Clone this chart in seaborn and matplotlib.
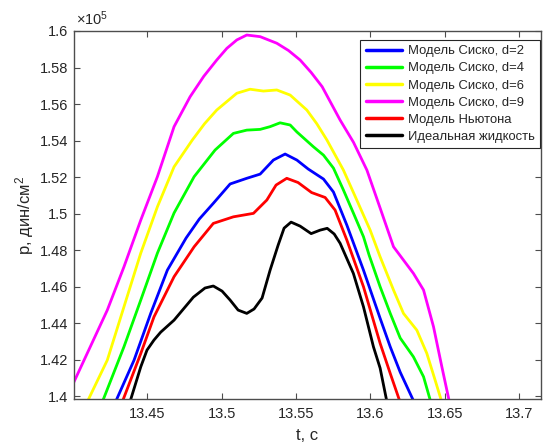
import numpy as np
import pandas as pd
import matplotlib
matplotlib.use("Agg")
import matplotlib.pyplot as plt
import seaborn as sns
from matplotlib.ticker import FuncFormatter, FixedLocator

# ---- data (p in units of 1e5 dyn/cm^2) ----
series_names = ["Модель Сиско, d=2", "Модель Сиско, d=4", "Модель Сиско, d=6",
                "Модель Сиско, d=9", "Модель Ньютона", "Идеальная жидкость"]
series_colors = ["#0000ff", "#00ff00", "#ffff00", "#ff00ff", "#ff0000", "#000000"]

t_d2 = [13.4290, 13.4411, 13.4523, 13.4635, 13.4761, 13.4850, 13.4944, 13.5057, 13.5169,
        13.5259, 13.5348, 13.5427, 13.5506, 13.5582, 13.5685, 13.5752, 13.5842, 13.5954,
        13.6066, 13.6134, 13.6201, 13.6290]
p_d2 = [1.3975, 1.4197, 1.4453, 1.4690, 1.4866, 1.4970, 1.5056, 1.5162, 1.5193,
        1.5216, 1.5293, 1.5326, 1.5293, 1.5244, 1.5189, 1.5118, 1.4937, 1.4690,
        1.4426, 1.4270, 1.4131, 1.3975]

t_d4 = [13.4201, 13.4343, 13.4456, 13.4568, 13.4680, 13.4815, 13.4956, 13.5079, 13.5169,
        13.5259, 13.5326, 13.5393, 13.5461, 13.5506, 13.5617, 13.5685, 13.5752, 13.5819,
        13.5887, 13.5954, 13.5992, 13.6066, 13.6134, 13.6201, 13.6290, 13.6358, 13.6404]
p_d4 = [1.3975, 1.4270, 1.4526, 1.4783, 1.5003, 1.5202, 1.5348, 1.5439, 1.5457,
        1.5461, 1.5476, 1.5497, 1.5485, 1.5447, 1.5366, 1.5320, 1.5249, 1.5129,
        1.5001, 1.4873, 1.4772, 1.4599, 1.4453, 1.4318, 1.4215, 1.4106, 1.3975]

t_d6 = [13.4100, 13.4231, 13.4343, 13.4456, 13.4568, 13.4680, 13.4803, 13.4885, 13.4967,
        13.5102, 13.5191, 13.5281, 13.5371, 13.5461, 13.5573, 13.5640, 13.5708, 13.5819,
        13.5909, 13.5999, 13.6066, 13.6156, 13.6223, 13.6313, 13.6380, 13.6436, 13.6478]
p_d6 = [1.3975, 1.4197, 1.4489, 1.4783, 1.5037, 1.5256, 1.5403, 1.5492, 1.5567,
        1.5659, 1.5681, 1.5671, 1.5677, 1.5649, 1.5567, 1.5492, 1.5403, 1.5238,
        1.5074, 1.4909, 1.4763, 1.4581, 1.4453, 1.4361, 1.4234, 1.4087, 1.3975]

t_d9 = [13.3995, 13.4231, 13.4343, 13.4456, 13.4568, 13.4680, 13.4788, 13.4880, 13.4967,
        13.5035, 13.5102, 13.5169, 13.5259, 13.5371, 13.5450, 13.5528, 13.5602, 13.5676,
        13.5797, 13.5887, 13.5977, 13.6066, 13.6156, 13.6290, 13.6358, 13.6425, 13.6481,
        13.6530]
p_d9 = [1.4057, 1.4471, 1.4708, 1.4964, 1.5202, 1.5476, 1.5640, 1.5752, 1.5841,
        1.5905, 1.5951, 1.5978, 1.5969, 1.5933, 1.5893, 1.5841, 1.5773, 1.5695,
        1.5512, 1.5390, 1.5238, 1.5030, 1.4818, 1.4672, 1.4581, 1.4380, 1.4161,
        1.3975]

t_newton = [13.4335, 13.4456, 13.4545, 13.4680, 13.4815, 13.4944, 13.5079, 13.5214, 13.5304,
            13.5366, 13.5438, 13.5514, 13.5605, 13.5696, 13.5763, 13.5842, 13.5954, 13.6066,
            13.6134, 13.6197]
p_newton = [1.3975, 1.4233, 1.4434, 1.4654, 1.4818, 1.4946, 1.4982, 1.5001, 1.5074,
            1.5156, 1.5193, 1.5170, 1.5115, 1.5088, 1.5019, 1.4855, 1.4599, 1.4289,
            1.4124, 1.3975]

t_ideal = [13.4386, 13.4456, 13.4498, 13.4545, 13.4590, 13.4680, 13.4810, 13.4888, 13.4944,
           13.5003, 13.5057, 13.5111, 13.5169, 13.5218, 13.5272, 13.5326, 13.5380, 13.5420,
           13.5467, 13.5528, 13.5602, 13.5662, 13.5710, 13.5757, 13.5797, 13.5886, 13.5954,
           13.6021, 13.6066, 13.6110]
p_ideal = [1.3975, 1.4160, 1.4252, 1.4307, 1.4350, 1.4416, 1.4542, 1.4592, 1.4603,
           1.4575, 1.4526, 1.4471, 1.4453, 1.4477, 1.4537, 1.4690, 1.4827, 1.4920,
           1.4953, 1.4931, 1.4890, 1.4909, 1.4919, 1.4888, 1.4837, 1.4672, 1.4489,
           1.4270, 1.4153, 1.3975]

x_ticks = [13.45, 13.5, 13.55, 13.6, 13.65, 13.7]
y_ticks = [1.4, 1.42, 1.44, 1.46, 1.48, 1.5, 1.52, 1.54, 1.56, 1.58, 1.6]
x_label = "t, c"
y_label = "p, дин/см$^{2}$"
exp_label = "×10$^{5}$"

all_t = [t_d2, t_d4, t_d6, t_d9, t_newton, t_ideal]
all_p = [p_d2, p_d4, p_d6, p_d9, p_newton, p_ideal]
frames = [pd.DataFrame({"t": tt, "p": pp, "series": name})
          for tt, pp, name in zip(all_t, all_p, series_names)]
df = pd.concat(frames, ignore_index=True)

# ---- style ----
sns.set_style("white")
plt.rcParams["font.family"] = ["Liberation Sans", "DejaVu Sans"]
plt.rcParams["mathtext.fontset"] = "custom"
plt.rcParams["mathtext.rm"] = "Liberation Sans"
plt.rcParams["mathtext.it"] = "Liberation Sans:italic"
plt.rcParams["mathtext.bf"] = "Liberation Sans:bold"

fig = plt.figure(figsize=(5.44, 4.47), dpi=100)
ax = fig.add_axes([74 / 544, 48 / 447, 467 / 544, 368 / 447])

sns.lineplot(data=df, x="t", y="p", hue="series", hue_order=series_names,
             palette=dict(zip(series_names, series_colors)), estimator=None,
             sort=False, linewidth=2.0, ax=ax)
for ln in ax.get_lines():
    ln.set_solid_joinstyle("round")

ax.set_xlim(13.4007, 13.7148)
ax.set_ylim(1.3984, 1.6)
ax.xaxis.set_major_locator(FixedLocator(x_ticks))
ax.yaxis.set_major_locator(FixedLocator(y_ticks))
fmt = FuncFormatter(lambda v, pos: "%g" % round(v, 4))
ax.xaxis.set_major_formatter(fmt)
ax.yaxis.set_major_formatter(fmt)

axis_color = "#4d4d4d"
text_color = "#262626"
for s in ax.spines.values():
    s.set_visible(True)
    s.set_color(axis_color)
    s.set_linewidth(1.0)
ax.tick_params(direction="in", length=4.3, width=0.8, color=axis_color,
               labelcolor=text_color, labelsize=10.5, top=True, right=True,
               bottom=True, left=True)
ax.tick_params(axis="x", pad=6)
ax.tick_params(axis="y", pad=4)

ax.set_xlabel(x_label, fontsize=12, color=text_color, labelpad=5)
ax.set_ylabel(y_label, fontsize=12, color=text_color, labelpad=3)
ax.text(0.004, 1.008, exp_label, transform=ax.transAxes, ha="left", va="bottom",
        fontsize=10.5, color=text_color)

handles, labels = ax.get_legend_handles_labels()
leg = ax.legend(handles, labels, loc="upper right", bbox_to_anchor=(0.998, 0.9755),
                borderaxespad=0, fontsize=9.4, frameon=True, fancybox=False,
                framealpha=1, edgecolor="#262626", handlelength=2.8,
                handletextpad=0.45, labelspacing=0.38, borderpad=0.4)
leg.get_frame().set_linewidth(0.8)
for line in leg.get_lines():
    line.set_linewidth(2.5)

fig.savefig("out.png", dpi=100)
